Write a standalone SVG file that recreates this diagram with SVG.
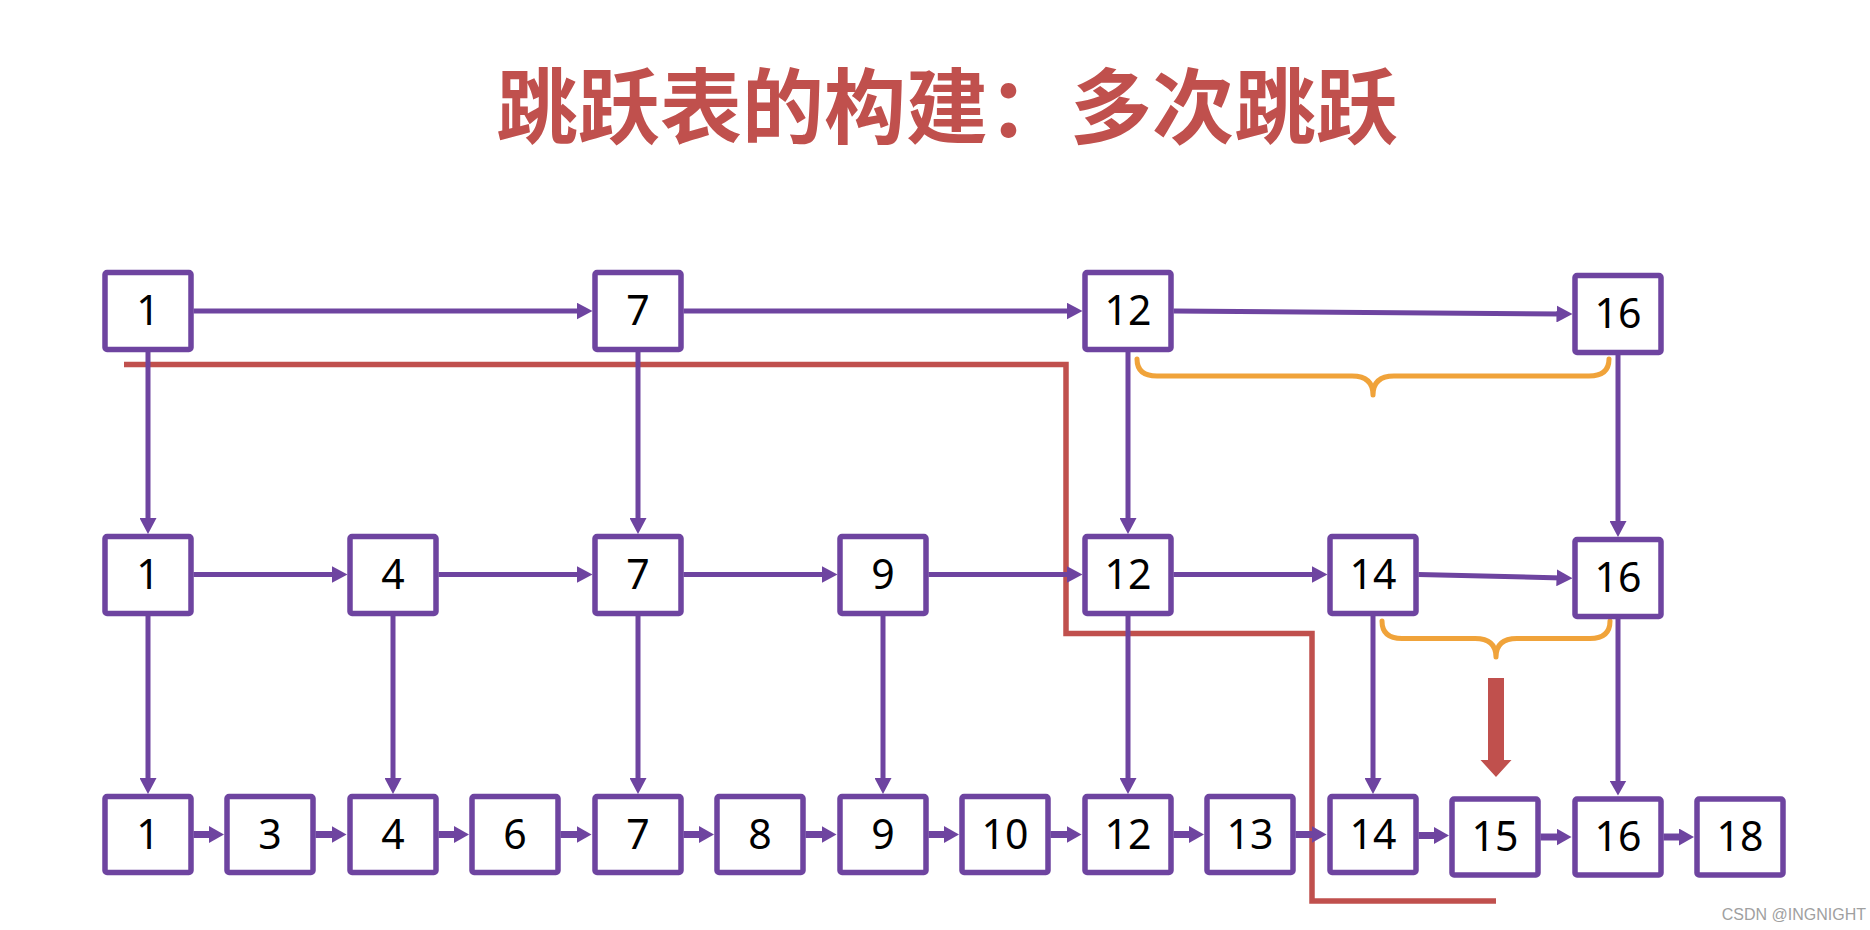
<svg xmlns="http://www.w3.org/2000/svg" width="1870" height="930" viewBox="0 0 1870 930">
<defs>
<style>
.box rect{fill:#fff;stroke:#6E44A0;stroke-width:5.5}
.box text{font-family:"Noto Sans","Open Sans",sans-serif;font-size:41px;fill:#000;text-anchor:middle}
.c{fill:none;stroke:#6E44A0;stroke-width:5}
.s{stroke-width:7}
.brace{fill:none;stroke:#F0A33A;stroke-width:5;stroke-linecap:round;stroke-linejoin:round}
</style>
<marker id="ah" viewBox="0 0 16 17" refX="6" refY="8.5" markerWidth="16" markerHeight="17" markerUnits="userSpaceOnUse" orient="auto">
<path d="M0,0 L16,8.5 L0,17 z" fill="#6E44A0"/>
</marker>
<marker id="ahs" viewBox="0 0 15 17" refX="6" refY="8.5" markerWidth="15" markerHeight="17" markerUnits="userSpaceOnUse" orient="auto">
<path d="M0,0 L15,8.5 L0,17 z" fill="#6E44A0"/>
</marker>
</defs>
<rect width="1870" height="930" fill="#fff"/>
<text x="496" y="137" font-family="'Noto Sans CJK SC',sans-serif" font-weight="bold" font-size="82" fill="#C0504D">跳跃表的构建：多次跳跃</text>

<g id="search-path">
<path d="M124,364.5 H1066 V633.5 H1312 V901 H1496" fill="none" stroke="#C0504D" stroke-width="5.5"/>
<path d="M1488,678 H1504 V760 H1511.5 L1496,777 L1480.5,760 H1488 z" fill="#C0504D"/>
</g>

<g id="connectors">
<path class="c" d="M193.5,311 H582.5" marker-end="url(#ah)"/>
<path class="c" d="M683.5,311 H1072.5" marker-end="url(#ah)"/>
<path class="c" d="M1173.5,311 L1562.5,314" marker-end="url(#ah)"/>
<path class="c" d="M193.5,574.5 H337.5" marker-end="url(#ah)"/>
<path class="c" d="M438.5,574.5 H582.5" marker-end="url(#ah)"/>
<path class="c" d="M683.5,574.5 H827.5" marker-end="url(#ah)"/>
<path class="c" d="M928.5,574.5 H1072.5" marker-end="url(#ah)"/>
<path class="c" d="M1173.5,574.5 H1317.5" marker-end="url(#ah)"/>
<path class="c" d="M1418.5,574.5 L1562.5,578" marker-end="url(#ah)"/>
<path class="c" d="M148,352 V524" marker-end="url(#ah)"/>
<path class="c" d="M638,352 V524" marker-end="url(#ah)"/>
<path class="c" d="M1128,352 V524" marker-end="url(#ah)"/>
<path class="c" d="M1618,355 V527" marker-end="url(#ah)"/>
<path class="c" d="M148,615.5 V784" marker-end="url(#ah)"/>
<path class="c" d="M393,615.5 V784" marker-end="url(#ah)"/>
<path class="c" d="M638,615.5 V784" marker-end="url(#ah)"/>
<path class="c" d="M883,615.5 V784" marker-end="url(#ah)"/>
<path class="c" d="M1128,615.5 V784" marker-end="url(#ah)"/>
<path class="c" d="M1373,615.5 V784" marker-end="url(#ah)"/>
<path class="c" d="M1618,618.5 V786.5" marker-end="url(#ahs)"/>
<path class="c s" d="M193.5,834.5 H215" marker-end="url(#ahs)"/>
<path class="c s" d="M315.5,834.5 H337.5" marker-end="url(#ahs)"/>
<path class="c s" d="M438.5,834.5 H460" marker-end="url(#ahs)"/>
<path class="c s" d="M560.5,834.5 H582.5" marker-end="url(#ahs)"/>
<path class="c s" d="M683.5,834.5 H705" marker-end="url(#ahs)"/>
<path class="c s" d="M805.5,834.5 H827.5" marker-end="url(#ahs)"/>
<path class="c s" d="M928.5,834.5 H950" marker-end="url(#ahs)"/>
<path class="c s" d="M1050.5,834.5 H1072.5" marker-end="url(#ahs)"/>
<path class="c s" d="M1173.5,834.5 H1195" marker-end="url(#ahs)"/>
<path class="c s" d="M1295.5,834.5 H1317.5" marker-end="url(#ahs)"/>
<path class="c s" d="M1418.5,835.5 H1440" marker-end="url(#ahs)"/>
<path class="c s" d="M1540.5,837 H1562.5" marker-end="url(#ahs)"/>
<path class="c s" d="M1663.5,837 H1685" marker-end="url(#ahs)"/>
</g>

<g id="braces">
<path class="brace" d="M1137,359 Q1137,376 1157,376 H1352 Q1373,376 1373,395 Q1373,376 1394,376 H1589 Q1609,376 1609,359"/>
<path class="brace" d="M1382,621 Q1382,638.5 1402,638.5 H1475 Q1496,638.5 1496,657 Q1496,638.5 1517,638.5 H1590 Q1610,638.5 1610,621"/>
</g>

<g id="top-1" class="box"><rect x="105" y="272.5" width="86" height="77" rx="2"/><text x="148" y="325">1</text></g>
<g id="top-7" class="box"><rect x="595" y="272.5" width="86" height="77" rx="2"/><text x="638" y="325">7</text></g>
<g id="top-12" class="box"><rect x="1085" y="272.5" width="86" height="77" rx="2"/><text x="1128" y="325">12</text></g>
<g id="top-16" class="box"><rect x="1575" y="275.5" width="86" height="77" rx="2"/><text x="1618" y="328">16</text></g>

<g id="mid-1" class="box"><rect x="105" y="536.5" width="86" height="77" rx="2"/><text x="148" y="588.5">1</text></g>
<g id="mid-4" class="box"><rect x="350" y="536.5" width="86" height="77" rx="2"/><text x="393" y="588.5">4</text></g>
<g id="mid-7" class="box"><rect x="595" y="536.5" width="86" height="77" rx="2"/><text x="638" y="588.5">7</text></g>
<g id="mid-9" class="box"><rect x="840" y="536.5" width="86" height="77" rx="2"/><text x="883" y="588.5">9</text></g>
<g id="mid-12" class="box"><rect x="1085" y="536.5" width="86" height="77" rx="2"/><text x="1128" y="588.5">12</text></g>
<g id="mid-14" class="box"><rect x="1330" y="536.5" width="86" height="77" rx="2"/><text x="1373" y="588.5">14</text></g>
<g id="mid-16" class="box"><rect x="1575" y="539.5" width="86" height="77" rx="2"/><text x="1618" y="591.5">16</text></g>

<g id="bot-1" class="box"><rect x="105" y="796.5" width="86" height="76" rx="2"/><text x="148" y="848.5">1</text></g>
<g id="bot-3" class="box"><rect x="227" y="796.5" width="86" height="76" rx="2"/><text x="270" y="848.5">3</text></g>
<g id="bot-4" class="box"><rect x="350" y="796.5" width="86" height="76" rx="2"/><text x="393" y="848.5">4</text></g>
<g id="bot-6" class="box"><rect x="472" y="796.5" width="86" height="76" rx="2"/><text x="515" y="848.5">6</text></g>
<g id="bot-7" class="box"><rect x="595" y="796.5" width="86" height="76" rx="2"/><text x="638" y="848.5">7</text></g>
<g id="bot-8" class="box"><rect x="717" y="796.5" width="86" height="76" rx="2"/><text x="760" y="848.5">8</text></g>
<g id="bot-9" class="box"><rect x="840" y="796.5" width="86" height="76" rx="2"/><text x="883" y="848.5">9</text></g>
<g id="bot-10" class="box"><rect x="962" y="796.5" width="86" height="76" rx="2"/><text x="1005" y="848.5">10</text></g>
<g id="bot-12" class="box"><rect x="1085" y="796.5" width="86" height="76" rx="2"/><text x="1128" y="848.5">12</text></g>
<g id="bot-13" class="box"><rect x="1207" y="796.5" width="86" height="76" rx="2"/><text x="1250" y="848.5">13</text></g>
<g id="bot-14" class="box"><rect x="1330" y="796.5" width="86" height="76" rx="2"/><text x="1373" y="848.5">14</text></g>
<g id="bot-15" class="box"><rect x="1452" y="799" width="86" height="76" rx="2"/><text x="1495" y="851">15</text></g>
<g id="bot-16" class="box"><rect x="1575" y="799" width="86" height="76" rx="2"/><text x="1618" y="851">16</text></g>
<g id="bot-18" class="box"><rect x="1697" y="799" width="86" height="76" rx="2"/><text x="1740" y="851">18</text></g>

<text x="1866" y="920" font-family="'Liberation Sans',sans-serif" font-size="16" fill="#A0A0A0" text-anchor="end">CSDN @INGNIGHT</text>
</svg>
